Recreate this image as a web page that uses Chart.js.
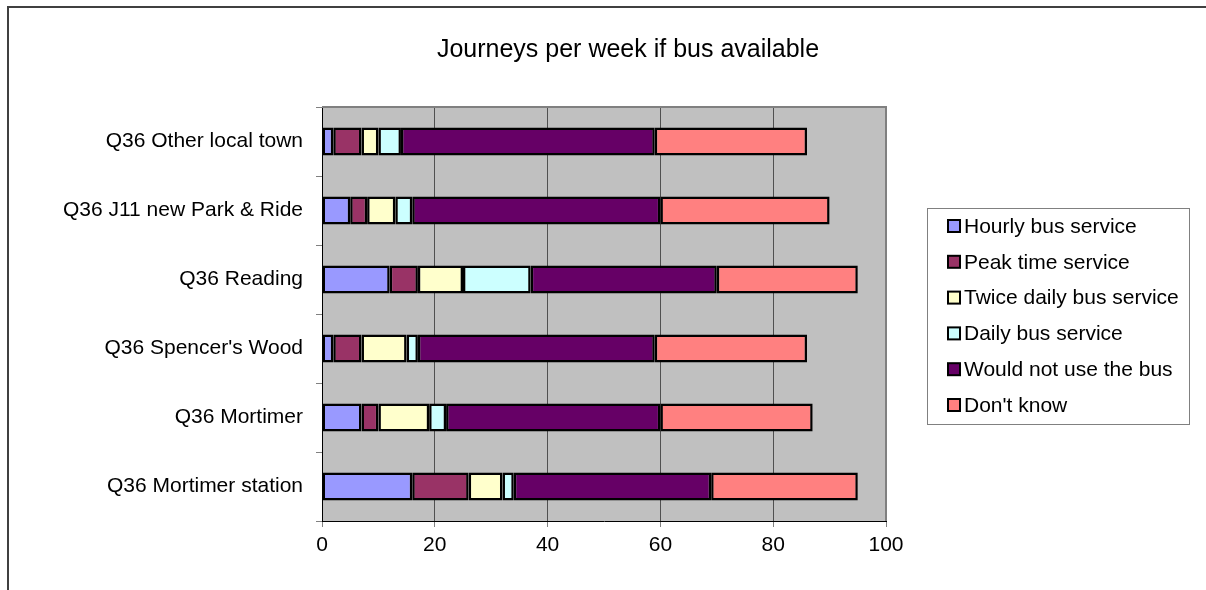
<!DOCTYPE html>
<html>
<head>
<meta charset="utf-8">
<script src="https://cdn.jsdelivr.net/npm/chart.js@4/dist/chart.umd.min.js"></script>
<style>
  html, body { margin: 0; padding: 0; background: #fff; }
  #chart { display: block; }
</style>
</head>
<body>
<canvas id="chart" width="1206" height="590"></canvas>
<script>
const chartTitle = 'Journeys per week if bus available';
const categories = ['Q36 Other local town', 'Q36 J11 new Park & Ride', 'Q36 Reading',
  "Q36 Spencer's Wood", 'Q36 Mortimer', 'Q36 Mortimer station'];
const seriesNames = ['Hourly bus service', 'Peak time service', 'Twice daily bus service',
  'Daily bus service', 'Would not use the bus', "Don't know"];
const hourly = [2, 5, 12, 2, 7, 16];
const peak = [5, 3, 5, 5, 3, 10];
const twiceDaily = [3, 5, 8, 8, 9, 6];
const daily = [4, 3, 12, 2, 3, 2];
const wouldNot = [45, 44, 33, 42, 38, 35];
const dontKnow = [27, 30, 25, 27, 27, 26];
const xTicks = [0, 20, 40, 60, 80, 100];
const colours = ['#9999FF', '#993366', '#FFFFCC', '#CCFFFF', '#660066', '#FF8080'];

const seriesValues = [hourly, peak, twiceDaily, daily, wouldNot, dontKnow];
const FONT = 'Arial, "Liberation Sans", sans-serif';

// grey plot background, plot border, outer frame, title and boxed legend
const excelLook = {
  id: 'excelLook',
  beforeDraw(chart) {
    const { ctx, chartArea: a } = chart;
    ctx.save();
    ctx.fillStyle = '#C0C0C0';
    ctx.fillRect(a.left, a.top, a.right - a.left, a.bottom - a.top);
    ctx.restore();
  },
  afterDraw(chart) {
    const { ctx, chartArea: a } = chart;
    ctx.save();
    // plot border top / right
    ctx.strokeStyle = '#808080';
    ctx.lineWidth = 2;
    ctx.beginPath();
    ctx.moveTo(a.left, a.top);
    ctx.lineTo(a.right, a.top);
    ctx.lineTo(a.right, a.bottom);
    ctx.stroke();
    // outer frame
    ctx.strokeStyle = '#404040';
    ctx.lineWidth = 2;
    ctx.beginPath();
    ctx.moveTo(8, 600);
    ctx.lineTo(8, 7);
    ctx.lineTo(1210, 7);
    ctx.stroke();
    // title
    ctx.fillStyle = '#000';
    ctx.font = '25px ' + FONT;
    ctx.textAlign = 'center';
    ctx.textBaseline = 'middle';
    ctx.fillText(chartTitle, 628, 50);
    // legend
    ctx.strokeStyle = '#808080';
    ctx.lineWidth = 1;
    ctx.strokeRect(927.5, 208.5, 262, 216);
    ctx.font = '21px ' + FONT;
    ctx.textAlign = 'left';
    chart.data.datasets.forEach((ds, i) => {
      const y = 226 + i * 35.8;
      ctx.fillStyle = ds.backgroundColor;
      ctx.fillRect(948, y - 6, 12, 12);
      ctx.strokeStyle = '#000';
      ctx.lineWidth = 2;
      ctx.strokeRect(948, y - 6, 12, 12);
      ctx.fillStyle = '#000';
      ctx.fillText(ds.label, 964, y + 1);
    });
    ctx.restore();
  }
};

new Chart(document.getElementById('chart'), {
  type: 'bar',
  data: {
    labels: categories,
    datasets: seriesNames.map((name, i) => ({
      label: name,
      data: seriesValues[i],
      backgroundColor: colours[i],
      borderColor: '#000',
      borderWidth: 2.5,
      borderSkipped: false,
      barPercentage: 0.405,
      categoryPercentage: 1
    }))
  },
  options: {
    indexAxis: 'y',
    responsive: false,
    animation: false,
    layout: { padding: { top: 107, right: 320, left: 0, bottom: 0 } },
    plugins: { legend: { display: false }, title: { display: false }, tooltip: { enabled: false } },
    scales: {
      x: {
        stacked: true,
        min: 0,
        max: 100,
        afterBuildTicks(scale) { scale.ticks = xTicks.map(v => ({ value: v })); },
        afterFit(scale) { scale.height = 69; },
        grid: { color: '#505050', lineWidth: 1, tickLength: 6, tickColor: '#808080' },
        border: { color: '#000', width: 1 },
        ticks: { color: '#000', font: { family: FONT, size: 21 }, padding: 6 }
      },
      y: {
        stacked: true,
        afterFit(scale) { scale.width = 322; },
        grid: { drawOnChartArea: false, tickLength: 6, color: '#808080', offset: true },
        border: { color: '#000', width: 1 },
        ticks: { color: '#000', font: { family: FONT, size: 21 }, padding: 13 }
      }
    }
  },
  plugins: [excelLook]
});
</script>
</body>
</html>
